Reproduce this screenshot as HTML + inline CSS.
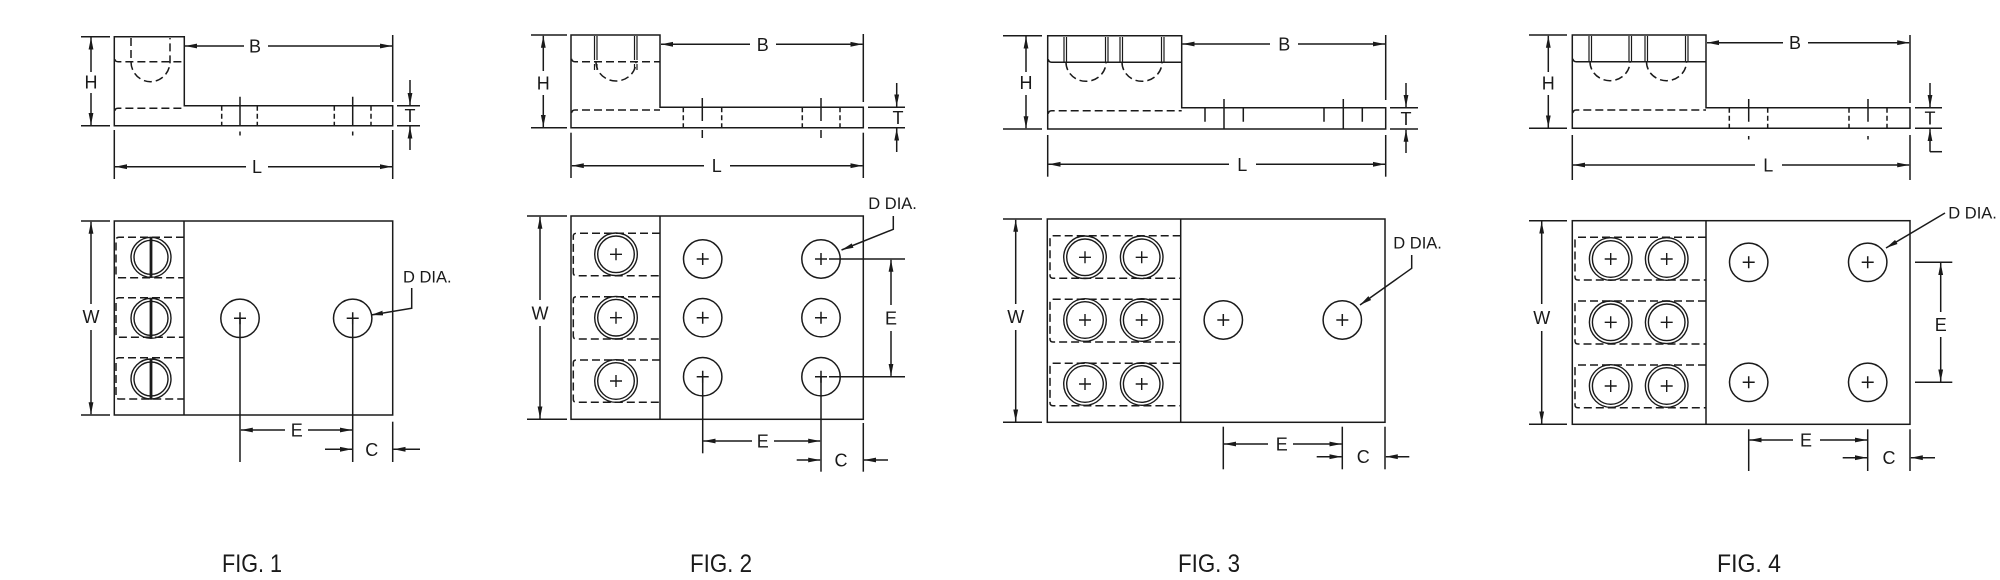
<!DOCTYPE html>
<html><head><meta charset="utf-8"><style>
html,body{margin:0;padding:0;background:#fff;}
svg{display:block;}
text{font-family:"Liberation Sans",Arial,sans-serif;fill:#1a1a1a;stroke:none;}
</style></head><body>
<svg width="2000" height="580" viewBox="0 0 2000 580" xmlns="http://www.w3.org/2000/svg">
<defs>
<marker id="ar" markerWidth="12" markerHeight="6" refX="12" refY="3" orient="auto" markerUnits="userSpaceOnUse"><path d="M0,0.6L12,3L0,5.4z" fill="#1a1a1a"/></marker>
<g id="sp" fill="none" stroke="#1a1a1a" stroke-width="1.4"><circle r="21.3"/><circle r="18.3"/><path d="M-6,0H6M0,-6V6"/></g>
<g id="ss" fill="none" stroke="#1a1a1a" stroke-width="1.4"><circle r="20"/><circle r="17"/><path d="M0,-20V20" stroke-width="2.8"/></g>
<g id="hl" fill="none" stroke="#1a1a1a" stroke-width="1.5"><circle r="19.2"/><path d="M-6,0H6M0,-6V6"/></g>
</defs>
<g fill="none" stroke="#1a1a1a" stroke-width="1.5">

<!-- ================= FIG 1 TOP ================= -->
<path d="M114.3,36.7H184.3V105.7H392.7V125.7H114.3Z"/>
<path stroke-dasharray="8 4" d="M114.8,59 Q115,61.7 118,61.7H184.3 M114.8,111 Q115,108.3 118,108.3H184.3"/>
<path stroke-dasharray="8 4" d="M131,38V61.7A19.5,20 0 0 0 170,61.7V38"/>
<line x1="81" y1="36.7" x2="110" y2="36.7"/><line x1="81" y1="125.7" x2="110" y2="125.7"/>
<line x1="91" y1="72" x2="91" y2="37.5" marker-end="url(#ar)"/><line x1="91" y1="93" x2="91" y2="125" marker-end="url(#ar)"/>
<line x1="244" y1="46" x2="185" y2="46" marker-end="url(#ar)"/><line x1="268" y1="46" x2="392" y2="46" marker-end="url(#ar)"/>
<line x1="392.7" y1="35" x2="392.7" y2="102"/>
<line x1="397" y1="105.7" x2="420" y2="105.7"/><line x1="397" y1="125.7" x2="420" y2="125.7"/>
<line x1="410" y1="80" x2="410" y2="105" marker-end="url(#ar)"/><line x1="410" y1="150" x2="410" y2="126.5" marker-end="url(#ar)"/>
<line x1="246" y1="166.7" x2="115" y2="166.7" marker-end="url(#ar)"/><line x1="268" y1="166.7" x2="392" y2="166.7" marker-end="url(#ar)"/>
<line x1="114.3" y1="130" x2="114.3" y2="179"/><line x1="392.7" y1="130" x2="392.7" y2="179"/>
<path stroke-dasharray="5 3" d="M221.7,105.7V125.7M257.3,105.7V125.7M334.3,105.7V125.7M371,105.7V125.7"/>
<path d="M240,96.7V125.7M240,131.5V135.5M352.7,96.7V125.7M352.7,131.5V135.5"/>

<!-- ================= FIG 1 BOTTOM ================= -->
<rect x="114.3" y="221" width="278.4" height="194"/>
<line x1="184" y1="221" x2="184" y2="415"/>
<path stroke-dasharray="8 4" d="M184,237.3H119Q116,237.3 116,240.3V274.7Q116,277.7 119,277.7H184 M184,297.7H119Q116,297.7 116,300.7V334.3Q116,337.3 119,337.3H184 M184,357.7H119Q116,357.7 116,360.7V396Q116,399 119,399H184"/>
<use href="#ss" x="151" y="257.3"/><use href="#ss" x="151" y="318.3"/><use href="#ss" x="151" y="379"/>
<use href="#hl" x="240" y="318.3"/><use href="#hl" x="352.7" y="318.3"/>
<line x1="240" y1="318.3" x2="240" y2="462"/><line x1="352.7" y1="318.3" x2="352.7" y2="462"/>
<line x1="285" y1="430" x2="240.8" y2="430" marker-end="url(#ar)"/><line x1="308" y1="430" x2="352" y2="430" marker-end="url(#ar)"/>
<line x1="392.7" y1="421.7" x2="392.7" y2="462"/>
<line x1="325" y1="449.3" x2="352" y2="449.3" marker-end="url(#ar)"/><line x1="420" y1="449.3" x2="393.5" y2="449.3" marker-end="url(#ar)"/>
<line x1="81" y1="221" x2="110" y2="221"/><line x1="81" y1="415" x2="110" y2="415"/>
<line x1="91" y1="304" x2="91" y2="221.8" marker-end="url(#ar)"/><line x1="91" y1="330" x2="91" y2="414.2" marker-end="url(#ar)"/>
<polyline points="411.7,288 411.7,308.3 371,315" marker-end="url(#ar)"/>

<!-- ================= FIG 2 TOP ================= -->
<path d="M571,35H660V107.3H863.3V127.7H571Z"/>
<path stroke-dasharray="8 4" d="M571.5,58.7Q572,61.7 575,61.7H660 M571.5,113Q572,110 575,110H660"/>
<path stroke-width="1.2" d="M594.5,36V60M597,36V60M634.5,36V60M637,36V60M594.5,64V70M597,64V70M634.5,64V70M637,64V70"/>
<path stroke-dasharray="8 4" d="M596,62A20,19 0 0 0 636,62"/>
<line x1="531" y1="35" x2="567" y2="35"/><line x1="531" y1="127.7" x2="567" y2="127.7"/>
<line x1="543.3" y1="71" x2="543.3" y2="35.8" marker-end="url(#ar)"/><line x1="543.3" y1="95" x2="543.3" y2="127" marker-end="url(#ar)"/>
<line x1="750" y1="44.3" x2="661" y2="44.3" marker-end="url(#ar)"/><line x1="776" y1="44.3" x2="862.5" y2="44.3" marker-end="url(#ar)"/>
<line x1="863.3" y1="34" x2="863.3" y2="102"/>
<line x1="868" y1="107.3" x2="905" y2="107.3"/><line x1="868" y1="127.7" x2="905" y2="127.7"/>
<line x1="896.7" y1="83" x2="896.7" y2="106.5" marker-end="url(#ar)"/><line x1="896.7" y1="152" x2="896.7" y2="128.5" marker-end="url(#ar)"/>
<line x1="704" y1="165.7" x2="571.8" y2="165.7" marker-end="url(#ar)"/><line x1="730" y1="165.7" x2="862.5" y2="165.7" marker-end="url(#ar)"/>
<line x1="571" y1="132.7" x2="571" y2="178"/><line x1="863.3" y1="132.7" x2="863.3" y2="178"/>
<path stroke-dasharray="5 3" d="M683.3,107.3V127.7M721.7,107.3V127.7M802.3,107.3V127.7M840,107.3V127.7"/>
<path d="M702.3,98V121M702.3,130V138M821,98V121M821,130V138"/>

<!-- ================= FIG 2 BOTTOM ================= -->
<rect x="571" y="216" width="292.3" height="203.3"/>
<line x1="660" y1="216" x2="660" y2="419.3"/>
<path stroke-dasharray="8 4" d="M660,233.3H576.3Q573.3,233.3 573.3,236.3V272.7Q573.3,275.7 576.3,275.7H660 M660,296.7H576.3Q573.3,296.7 573.3,299.7V336Q573.3,339 576.3,339H660 M660,360H576.3Q573.3,360 573.3,363V399.3Q573.3,402.3 576.3,402.3H660"/>
<use href="#sp" x="616" y="254.3"/><use href="#sp" x="616" y="317.7"/><use href="#sp" x="616" y="381"/>
<use href="#hl" x="702.7" y="259"/><use href="#hl" x="702.7" y="317.7"/><use href="#hl" x="702.7" y="376.7"/>
<use href="#hl" x="821" y="259"/><use href="#hl" x="821" y="317.7"/><use href="#hl" x="821" y="376.7"/>
<line x1="702.7" y1="376.7" x2="702.7" y2="453.3"/><line x1="821" y1="376.7" x2="821" y2="471.7"/>
<line x1="752" y1="441" x2="703.5" y2="441" marker-end="url(#ar)"/><line x1="774" y1="441" x2="820.2" y2="441" marker-end="url(#ar)"/>
<line x1="863.3" y1="423" x2="863.3" y2="471.7"/>
<line x1="796.7" y1="460" x2="820.2" y2="460" marker-end="url(#ar)"/><line x1="888" y1="460" x2="864" y2="460" marker-end="url(#ar)"/>
<line x1="829" y1="259" x2="905" y2="259"/><line x1="829" y1="376.7" x2="905" y2="376.7"/>
<line x1="891" y1="305" x2="891" y2="259.8" marker-end="url(#ar)"/><line x1="891" y1="331" x2="891" y2="375.9" marker-end="url(#ar)"/>
<polyline points="893.3,216 893.3,229.3 841.5,250" marker-end="url(#ar)"/>
<line x1="527" y1="216" x2="567" y2="216"/><line x1="527" y1="419.3" x2="567" y2="419.3"/>
<line x1="540" y1="300" x2="540" y2="216.8" marker-end="url(#ar)"/><line x1="540" y1="326" x2="540" y2="418.5" marker-end="url(#ar)"/>

<!-- ================= FIG 3 TOP ================= -->
<path d="M1047.7,35.7H1181.7V107.7H1385.7V129H1047.7Z"/>
<path d="M1048.2,59.3Q1048.7,62.3 1051.7,62.3H1181.7"/>
<path stroke-dasharray="8 4" d="M1048.2,113.7Q1048.7,110.7 1051.7,110.7H1181.7"/>
<path stroke-width="1.2" d="M1064,37V62M1066.5,37V62M1105.5,37V62M1108,37V62M1120,37V62M1122.5,37V62M1161.5,37V62M1164,37V62"/>
<path stroke-dasharray="8 4" d="M1066,62.3A20,19 0 0 0 1106,62.3M1122,62.3A20,19 0 0 0 1162,62.3"/>
<line x1="1003" y1="35.7" x2="1042" y2="35.7"/><line x1="1003" y1="129" x2="1042" y2="129"/>
<line x1="1026" y1="72" x2="1026" y2="36.5" marker-end="url(#ar)"/><line x1="1026" y1="95" x2="1026" y2="128.2" marker-end="url(#ar)"/>
<line x1="1270" y1="44" x2="1182.5" y2="44" marker-end="url(#ar)"/><line x1="1298" y1="44" x2="1385" y2="44" marker-end="url(#ar)"/>
<line x1="1385.7" y1="35" x2="1385.7" y2="100"/>
<line x1="1390" y1="107.7" x2="1418" y2="107.7"/><line x1="1390" y1="129" x2="1418" y2="129"/>
<line x1="1406" y1="83" x2="1406" y2="107" marker-end="url(#ar)"/><line x1="1406" y1="153" x2="1406" y2="129.8" marker-end="url(#ar)"/>
<line x1="1229" y1="164.3" x2="1048.5" y2="164.3" marker-end="url(#ar)"/><line x1="1256" y1="164.3" x2="1385" y2="164.3" marker-end="url(#ar)"/>
<line x1="1047.7" y1="135" x2="1047.7" y2="176.7"/><line x1="1385.7" y1="135" x2="1385.7" y2="176.7"/>
<path d="M1205,107.7V121.7M1224,99V129M1243.3,107.7V121.7M1324,107.7V121.7M1343.3,99V129M1362.3,107.7V121.7"/>

<!-- ================= FIG 3 BOTTOM ================= -->
<rect x="1047.3" y="219" width="337.7" height="203.3"/>
<line x1="1180.7" y1="219" x2="1180.7" y2="422.3"/>
<path stroke-dasharray="8 4" d="M1180.7,235.7H1053Q1050,235.7 1050,238.7V275.3Q1050,278.3 1053,278.3H1180.7 M1180.7,299.3H1053Q1050,299.3 1050,302.3V339Q1050,342 1053,342H1180.7 M1180.7,363.3H1053Q1050,363.3 1050,366.3V402.7Q1050,405.7 1053,405.7H1180.7"/>
<use href="#sp" x="1085" y="257.3"/><use href="#sp" x="1141.7" y="257.3"/>
<use href="#sp" x="1085" y="320"/><use href="#sp" x="1141.7" y="320"/>
<use href="#sp" x="1085" y="384"/><use href="#sp" x="1141.7" y="384"/>
<use href="#hl" x="1223.3" y="320"/><use href="#hl" x="1342.3" y="320"/>
<line x1="1223.3" y1="426.7" x2="1223.3" y2="469.3"/><line x1="1342.3" y1="426.7" x2="1342.3" y2="469.3"/>
<line x1="1268" y1="444" x2="1224" y2="444" marker-end="url(#ar)"/><line x1="1293" y1="444" x2="1341.5" y2="444" marker-end="url(#ar)"/>
<line x1="1385" y1="426.7" x2="1385" y2="469.3"/>
<line x1="1316.7" y1="456.7" x2="1341.5" y2="456.7" marker-end="url(#ar)"/><line x1="1409.3" y1="456.7" x2="1385.8" y2="456.7" marker-end="url(#ar)"/>
<line x1="1003" y1="219" x2="1042" y2="219"/><line x1="1003" y1="422.3" x2="1042" y2="422.3"/>
<line x1="1015.7" y1="304" x2="1015.7" y2="219.8" marker-end="url(#ar)"/><line x1="1015.7" y1="330" x2="1015.7" y2="421.5" marker-end="url(#ar)"/>
<polyline points="1411.7,255 1411.7,268.3 1360,305" marker-end="url(#ar)"/>

<!-- ================= FIG 4 TOP ================= -->
<path d="M1572.3,35H1706V107.7H1910V128.3H1572.3Z"/>
<path d="M1572.8,58.7Q1573.3,61.7 1576.3,61.7H1706"/>
<path stroke-dasharray="8 4" d="M1572.8,113Q1573.3,110 1576.3,110H1706"/>
<path stroke-width="1.2" d="M1589,36V62M1591.5,36V62M1629,36V62M1631.5,36V62M1645,36V62M1647.5,36V62M1685.5,36V62M1688,36V62"/>
<path stroke-dasharray="8 4" d="M1590,61.7A20,19 0 0 0 1630,61.7M1646.5,61.7A20,19 0 0 0 1686.5,61.7"/>
<line x1="1529" y1="35" x2="1567" y2="35"/><line x1="1529" y1="128.3" x2="1567" y2="128.3"/>
<line x1="1548.3" y1="72" x2="1548.3" y2="35.8" marker-end="url(#ar)"/><line x1="1548.3" y1="95" x2="1548.3" y2="127.5" marker-end="url(#ar)"/>
<line x1="1783" y1="42.7" x2="1707" y2="42.7" marker-end="url(#ar)"/><line x1="1808" y1="42.7" x2="1909.2" y2="42.7" marker-end="url(#ar)"/>
<line x1="1910" y1="35" x2="1910" y2="103"/>
<line x1="1915" y1="107.7" x2="1942" y2="107.7"/><line x1="1915" y1="128.3" x2="1942" y2="128.3"/>
<line x1="1930" y1="83" x2="1930" y2="107" marker-end="url(#ar)"/><line x1="1930" y1="151.7" x2="1930" y2="129.1" marker-end="url(#ar)"/>
<line x1="1930" y1="151.7" x2="1942" y2="151.7"/>
<line x1="1755" y1="165" x2="1573" y2="165" marker-end="url(#ar)"/><line x1="1782" y1="165" x2="1909.2" y2="165" marker-end="url(#ar)"/>
<line x1="1572.3" y1="135" x2="1572.3" y2="180"/><line x1="1910" y1="135" x2="1910" y2="180"/>
<path stroke-dasharray="5 3" d="M1729.3,107.7V128.3M1767.7,107.7V128.3M1849,107.7V128.3M1887,107.7V128.3"/>
<path d="M1748.7,99V121.7M1748.7,136V139.5M1868,99V121.7M1868,136V139.5"/>

<!-- ================= FIG 4 BOTTOM ================= -->
<rect x="1572.3" y="220.7" width="337.7" height="203.6"/>
<line x1="1706" y1="220.7" x2="1706" y2="424.3"/>
<path stroke-dasharray="8 4" d="M1706,237.3H1578Q1575,237.3 1575,240.3V277Q1575,280 1578,280H1706 M1706,301H1578Q1575,301 1575,304V341Q1575,344 1578,344H1706 M1706,365H1578Q1575,365 1575,368V404.7Q1575,407.7 1578,407.7H1706"/>
<use href="#sp" x="1610.7" y="259"/><use href="#sp" x="1666.7" y="259"/>
<use href="#sp" x="1610.7" y="322.3"/><use href="#sp" x="1666.7" y="322.3"/>
<use href="#sp" x="1610.7" y="386"/><use href="#sp" x="1666.7" y="386"/>
<use href="#hl" x="1748.7" y="262.3"/><use href="#hl" x="1867.7" y="262.3"/>
<use href="#hl" x="1748.7" y="382.3"/><use href="#hl" x="1867.7" y="382.3"/>
<line x1="1915" y1="262.3" x2="1952.3" y2="262.3"/><line x1="1915" y1="382.3" x2="1952.3" y2="382.3"/>
<line x1="1940.7" y1="312" x2="1940.7" y2="263" marker-end="url(#ar)"/><line x1="1940.7" y1="337" x2="1940.7" y2="381.5" marker-end="url(#ar)"/>
<line x1="1748.7" y1="429.3" x2="1748.7" y2="471"/><line x1="1867.7" y1="429.3" x2="1867.7" y2="471"/>
<line x1="1793" y1="440" x2="1749.5" y2="440" marker-end="url(#ar)"/><line x1="1820" y1="440" x2="1867" y2="440" marker-end="url(#ar)"/>
<line x1="1910" y1="429.3" x2="1910" y2="471"/>
<line x1="1842.7" y1="457.7" x2="1867" y2="457.7" marker-end="url(#ar)"/><line x1="1935" y1="457.7" x2="1910.8" y2="457.7" marker-end="url(#ar)"/>
<line x1="1529" y1="220.7" x2="1567" y2="220.7"/><line x1="1529" y1="424.3" x2="1567" y2="424.3"/>
<line x1="1541.7" y1="304" x2="1541.7" y2="221.5" marker-end="url(#ar)"/><line x1="1541.7" y1="331" x2="1541.7" y2="423.5" marker-end="url(#ar)"/>
<line x1="1945" y1="213" x2="1886" y2="248" marker-end="url(#ar)"/>
</g>

<!-- ================= TEXT ================= -->
<g font-size="18" text-anchor="middle">
<text x="91" y="88.5">H</text><text x="255" y="52.5">B</text><text x="410" y="122">T</text><text x="257" y="173">L</text>
<text x="91" y="323">W</text><text x="296.7" y="436.5">E</text><text x="371.7" y="456">C</text>
<text x="543.3" y="89.5">H</text><text x="762.7" y="50.8">B</text><text x="898" y="124">T</text><text x="716.7" y="172">L</text>
<text x="540" y="319.5">W</text><text x="762.7" y="447.5">E</text><text x="841" y="466.5">C</text><text x="891" y="324.5">E</text>
<text x="1026" y="89">H</text><text x="1284.3" y="50.5">B</text><text x="1406" y="125">T</text><text x="1242.3" y="170.8">L</text>
<text x="1015.7" y="323">W</text><text x="1281.7" y="450.5">E</text><text x="1363.3" y="463.2">C</text>
<text x="1548.3" y="89.5">H</text><text x="1795" y="49.2">B</text><text x="1930" y="124.5">T</text><text x="1768.3" y="171.5">L</text>
<text x="1541.7" y="324">W</text><text x="1806" y="446.5">E</text><text x="1889" y="464.2">C</text><text x="1940.7" y="330.8">E</text>
</g>
<g font-size="16.5">
<text x="403" y="282.5">D DIA.</text>
<text x="868.3" y="209">D DIA.</text>
<text x="1393.3" y="248.5">D DIA.</text>
<text x="1948.3" y="218.5">D DIA.</text>
</g>
<g font-size="25" text-anchor="middle" style="stroke:#1a1a1a;stroke-width:0.3">
<text x="252" y="572" textLength="60" lengthAdjust="spacingAndGlyphs">FIG. 1</text>
<text x="721" y="572" textLength="62" lengthAdjust="spacingAndGlyphs">FIG. 2</text>
<text x="1209" y="572" textLength="62" lengthAdjust="spacingAndGlyphs">FIG. 3</text>
<text x="1749" y="572" textLength="64" lengthAdjust="spacingAndGlyphs">FIG. 4</text>
</g>
</svg>
</body></html>
